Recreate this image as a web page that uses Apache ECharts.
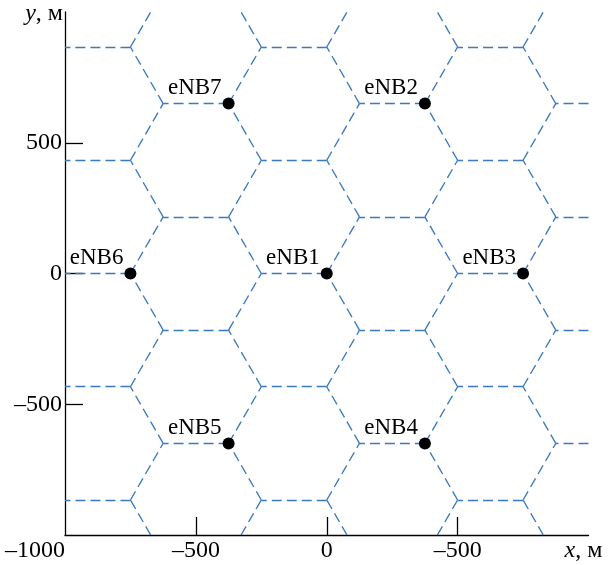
<!DOCTYPE html>
<html>
<head>
<meta charset="utf-8">
<script src="https://cdn.jsdelivr.net/npm/echarts@6/dist/echarts.min.js"></script>
<style>
html,body{margin:0;padding:0;background:#fff;}
#chart{width:608px;height:565px;}
</style>
</head>
<body>
<div id="chart"></div>
<script>
// ---- data ----
const siteNames = ['eNB1', 'eNB2', 'eNB3', 'eNB4', 'eNB5', 'eNB6', 'eNB7'];
const siteX = [0, 375, 750, 375, -375, -750, -375];
const siteY = [0, 650, 0, -650, -650, 0, 650];
const cellRadius = 250; // hexagon side length, m
const xTickValues = [-1000, -500, 0, 500];
const xTickLabels = ['–1000', '–500', '0', '–500'];
const yTickValues = [-500, 0, 500];
const yTickLabels = ['–500', '0', '500'];
const axisMin = -1000, axisMax = 1000;

// ---- hexagonal cell boundaries (flat-top honeycomb; sites sit on shared corners) ----
function clipSeg(x1, y1, x2, y2, lo, hi) {
  let t0 = 0, t1 = 1;
  const dx = x2 - x1, dy = y2 - y1;
  const p = [-dx, dx, -dy, dy];
  const q = [x1 - lo, hi - x1, y1 - lo, hi - y1];
  for (let k = 0; k < 4; k++) {
    if (Math.abs(p[k]) < 1e-12) { if (q[k] < 0) return null; }
    else {
      const r = q[k] / p[k];
      if (p[k] < 0) { if (r > t1) return null; if (r > t0) t0 = r; }
      else { if (r < t0) return null; if (r < t1) t1 = r; }
    }
  }
  if (t1 - t0 < 1e-6) return null;
  return [[x1 + t0 * dx, y1 + t0 * dy], [x1 + t1 * dx, y1 + t1 * dy]];
}
const R = cellRadius, H = Math.sqrt(3) * R;
const edges = [];
for (let i = -5; i <= 5; i++) {
  for (let j = -7; j <= 7; j++) {
    const cx = R + 1.5 * R * i, cy = H * (j + i / 2);
    const v = [];
    for (let k = 0; k < 6; k++) {
      v.push([cx + R * Math.cos(Math.PI / 3 * k), cy + R * Math.sin(Math.PI / 3 * k)]);
    }
    [[1, 2], [0, 1], [5, 0]].forEach(([a, b]) => {
      const c = clipSeg(v[a][0], v[a][1], v[b][0], v[b][1], axisMin, axisMax);
      if (c) edges.push({ coords: c });
    });
  }
}

const FONT = "'Liberation Serif', 'Times New Roman', serif";
const chart = echarts.init(document.getElementById('chart'), null, { renderer: 'canvas' });
chart.setOption({
  animation: false,
  backgroundColor: '#fff',
  textStyle: { fontFamily: FONT },
  grid: { left: 65, top: 12, right: 19.5, bottom: 30, containLabel: false },
  xAxis: {
    type: 'value', min: axisMin, max: axisMax, interval: 500,
    name: '{i|x}, м', nameLocation: 'end', nameGap: -24,
    nameTextStyle: {
      fontFamily: FONT, fontSize: 24, color: '#000', align: 'left', verticalAlign: 'top',
      padding: [4, 0, 0, 0],
      rich: { i: { fontStyle: 'italic', fontFamily: FONT, fontSize: 24, color: '#000' } }
    },
    axisLine: { show: true, onZero: false, lineStyle: { color: '#000', width: 1.3 } },
    axisTick: { show: true, inside: true, length: 18, customValues: [-500, 0, 500], lineStyle: { color: '#000', width: 1.3 } },
    axisLabel: {
      show: true, customValues: xTickValues, margin: 4, color: '#000', fontFamily: FONT, fontSize: 24,
      alignMinLabel: 'right',
      formatter: v => { const k = xTickValues.indexOf(v); return k >= 0 ? xTickLabels[k] : ''; }
    },
    splitLine: { show: false }
  },
  yAxis: {
    type: 'value', min: axisMin, max: axisMax, interval: 500,
    name: '{i|y}, м', nameLocation: 'end', nameGap: -2,
    nameTextStyle: {
      fontFamily: FONT, fontSize: 24, color: '#000', align: 'right', verticalAlign: 'middle',
      padding: [0, 2, 0, 0],
      rich: { i: { fontStyle: 'italic', fontFamily: FONT, fontSize: 24, color: '#000' } }
    },
    axisLine: { show: true, onZero: false, lineStyle: { color: '#000', width: 1.3 } },
    axisTick: { show: true, inside: true, length: 18, customValues: yTickValues, lineStyle: { color: '#000', width: 1.3 } },
    axisLabel: {
      show: true, customValues: yTickValues, margin: 3, color: '#000', fontFamily: FONT, fontSize: 24,
      formatter: v => { const k = yTickValues.indexOf(v); return k >= 0 ? yTickLabels[k] : ''; }
    },
    splitLine: { show: false }
  },
  series: [
    {
      type: 'lines', coordinateSystem: 'cartesian2d', polyline: false, silent: true, clip: true,
      lineStyle: { color: '#3a7abf', width: 1.35, type: [10, 5], opacity: 1, curveness: 0 },
      data: edges, z: 2
    },
    {
      type: 'scatter', symbol: 'circle', symbolSize: 12, silent: true, z: 5,
      itemStyle: { color: '#000', opacity: 1 },
      data: siteNames.map((n, k) => ({ name: n, value: [siteX[k], siteY[k]] })),
      label: {
        show: true, formatter: '{b}', position: [-1, 2], align: 'right', verticalAlign: 'bottom',
        color: '#000', opacity: 1, fontFamily: FONT, fontSize: 23
      }
    }
  ]
});
</script>
</body>
</html>
